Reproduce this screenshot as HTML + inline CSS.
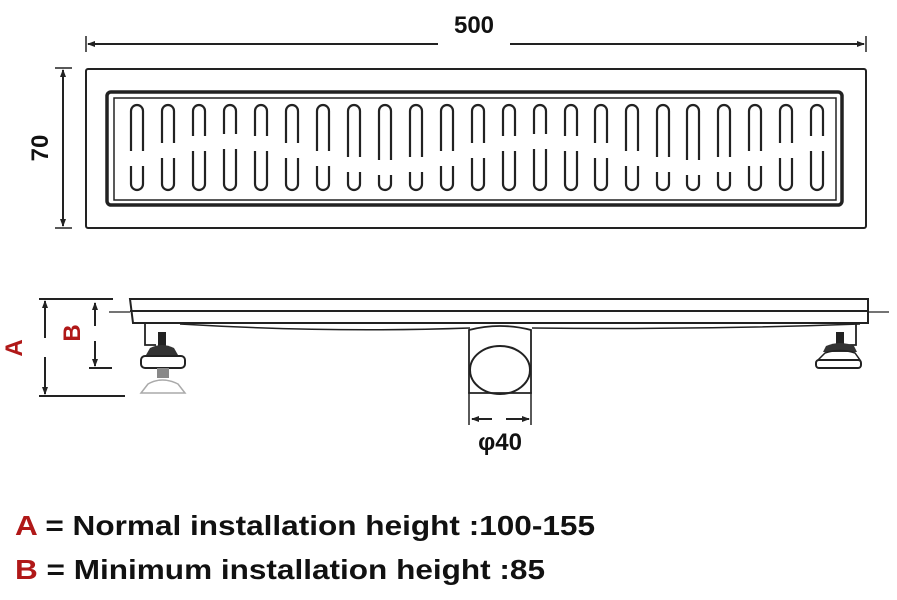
<!DOCTYPE html>
<html><head><meta charset="utf-8"><style>
html,body{margin:0;padding:0;background:#fff;width:897px;height:600px;overflow:hidden}
svg{display:block}
</style></head><body>
<svg width="897" height="600" viewBox="0 0 897 600" xmlns="http://www.w3.org/2000/svg" font-family="'Liberation Sans', 'DejaVu Sans', sans-serif">
<defs>
<marker id="ar" markerWidth="8" markerHeight="8" refX="7" refY="4" orient="auto" markerUnits="userSpaceOnUse"><path d="M0,1 L8,4 L0,7 Z" fill="#222"/></marker>
</defs>
<g stroke="#222" fill="none">
<line x1="86" y1="36" x2="86" y2="52" stroke-width="1.5"/>
<line x1="866" y1="36" x2="866" y2="52" stroke-width="1.5"/>
<line x1="96" y1="44" x2="88" y2="44" stroke-width="2" marker-end="url(#ar)"/>
<line x1="96" y1="44" x2="438" y2="44" stroke-width="2"/>
<line x1="510" y1="44" x2="856" y2="44" stroke-width="2"/>
<line x1="856" y1="44" x2="864" y2="44" stroke-width="2" marker-end="url(#ar)"/>
<line x1="55" y1="68" x2="72" y2="68" stroke-width="1.5"/>
<line x1="55" y1="228" x2="72" y2="228" stroke-width="1.5"/>
<line x1="63" y1="78" x2="63" y2="70" stroke-width="2" marker-end="url(#ar)"/>
<line x1="63" y1="78" x2="63" y2="218" stroke-width="2"/>
<line x1="63" y1="218" x2="63" y2="226" stroke-width="2" marker-end="url(#ar)"/>
<rect x="86" y="69" width="780" height="159" rx="2" stroke-width="2"/>
<rect x="107" y="92" width="735" height="113" rx="4" stroke-width="3.5"/>
<rect x="114" y="98" width="722" height="102" stroke-width="1.5"/>
<g stroke-width="2.2">
<path d="M131,151V111a6,6 0 0 1 12,0V151M131,166V184a6,6 0 0 0 12,0V166"/>
<path d="M162,143V111a6,6 0 0 1 12,0V143M162,158V184a6,6 0 0 0 12,0V158"/>
<path d="M193,136V111a6,6 0 0 1 12,0V136M193,151V184a6,6 0 0 0 12,0V151"/>
<path d="M224,134V111a6,6 0 0 1 12,0V134M224,149V184a6,6 0 0 0 12,0V149"/>
<path d="M255,136V111a6,6 0 0 1 12,0V136M255,151V184a6,6 0 0 0 12,0V151"/>
<path d="M286,143V111a6,6 0 0 1 12,0V143M286,158V184a6,6 0 0 0 12,0V158"/>
<path d="M317,151V111a6,6 0 0 1 12,0V151M317,166V184a6,6 0 0 0 12,0V166"/>
<path d="M348,157V111a6,6 0 0 1 12,0V157M348,172V184a6,6 0 0 0 12,0V172"/>
<path d="M379,160V111a6,6 0 0 1 12,0V160M379,175V184a6,6 0 0 0 12,0V175"/>
<path d="M410,157V111a6,6 0 0 1 12,0V157M410,172V184a6,6 0 0 0 12,0V172"/>
<path d="M441,151V111a6,6 0 0 1 12,0V151M441,166V184a6,6 0 0 0 12,0V166"/>
<path d="M472,143V111a6,6 0 0 1 12,0V143M472,158V184a6,6 0 0 0 12,0V158"/>
<path d="M503,136V111a6,6 0 0 1 12,0V136M503,151V184a6,6 0 0 0 12,0V151"/>
<path d="M534,134V111a6,6 0 0 1 12,0V134M534,149V184a6,6 0 0 0 12,0V149"/>
<path d="M565,136V111a6,6 0 0 1 12,0V136M565,151V184a6,6 0 0 0 12,0V151"/>
<path d="M595,143V111a6,6 0 0 1 12,0V143M595,158V184a6,6 0 0 0 12,0V158"/>
<path d="M626,151V111a6,6 0 0 1 12,0V151M626,166V184a6,6 0 0 0 12,0V166"/>
<path d="M657,157V111a6,6 0 0 1 12,0V157M657,172V184a6,6 0 0 0 12,0V172"/>
<path d="M687,160V111a6,6 0 0 1 12,0V160M687,175V184a6,6 0 0 0 12,0V175"/>
<path d="M718,157V111a6,6 0 0 1 12,0V157M718,172V184a6,6 0 0 0 12,0V172"/>
<path d="M749,151V111a6,6 0 0 1 12,0V151M749,166V184a6,6 0 0 0 12,0V166"/>
<path d="M780,143V111a6,6 0 0 1 12,0V143M780,158V184a6,6 0 0 0 12,0V158"/>
<path d="M811,136V111a6,6 0 0 1 12,0V136M811,151V184a6,6 0 0 0 12,0V151"/>
</g>
<path d="M130,299H868V323H133Z" stroke-width="2"/>
<line x1="130" y1="311" x2="868" y2="311" stroke-width="2"/>
<line x1="109" y1="312" x2="130" y2="312" stroke-width="1.2"/>
<line x1="868" y1="312" x2="889" y2="312" stroke-width="1.2"/>
<path d="M180,324 Q330,333 470,328 M532,328 Q700,330 860,324" stroke-width="1.5"/>
<path d="M469,330 Q500,322 531,330 V393 H469 Z" stroke-width="1.8" fill="#fff"/>
<ellipse cx="500" cy="370" rx="30" ry="24" stroke-width="2"/>
<line x1="469" y1="392" x2="469" y2="425" stroke-width="1.5"/>
<line x1="531" y1="392" x2="531" y2="425" stroke-width="1.5"/>
<line x1="478" y1="419" x2="472" y2="419" stroke-width="2" marker-end="url(#ar)"/>
<line x1="478" y1="419" x2="492" y2="419" stroke-width="2"/>
<line x1="506" y1="419" x2="522" y2="419" stroke-width="2"/>
<line x1="522" y1="419" x2="529" y2="419" stroke-width="2" marker-end="url(#ar)"/>
<path d="M145,323V345H156" stroke-width="1.8"/>
<rect x="158" y="332" width="8" height="16" fill="#222" stroke="none"/>
<path d="M150,348 Q162,342 174,348 L178,355 H146 Z" fill="#333" stroke="none"/>
<rect x="141" y="356" width="44" height="12" rx="4" stroke-width="2"/>
<rect x="157" y="368" width="12" height="10" fill="#888" stroke="none"/>
<path d="M148,384 Q162,376 178,384 L185,393 H141 Z" stroke="#aaa" stroke-width="1.5"/>
<path d="M856,323V345H846" stroke-width="1.8"/>
<rect x="836" y="332" width="8" height="14" fill="#222" stroke="none"/>
<path d="M826,346 Q840,340 854,346 L857,352 H823 Z" fill="#333" stroke="none"/>
<path d="M825,353 Q840,348 855,353 L860,360 H818 Z" stroke-width="1.5"/>
<rect x="816" y="360" width="45" height="8" rx="3" stroke-width="2"/>
<line x1="39" y1="299" x2="113" y2="299" stroke-width="2"/>
<line x1="39" y1="396" x2="125" y2="396" stroke-width="2"/>
<line x1="45" y1="307" x2="45" y2="301" stroke-width="2" marker-end="url(#ar)"/>
<line x1="45" y1="307" x2="45" y2="338" stroke-width="2"/>
<line x1="45" y1="357" x2="45" y2="388" stroke-width="2"/>
<line x1="45" y1="388" x2="45" y2="394" stroke-width="2" marker-end="url(#ar)"/>
<line x1="95" y1="310" x2="95" y2="303" stroke-width="2" marker-end="url(#ar)"/>
<line x1="95" y1="310" x2="95" y2="326" stroke-width="2"/>
<line x1="95" y1="341" x2="95" y2="360" stroke-width="2"/>
<line x1="95" y1="360" x2="95" y2="366" stroke-width="2" marker-end="url(#ar)"/>
<line x1="89" y1="368" x2="112" y2="368" stroke-width="2"/>
</g>
<g font-weight="bold">
<text x="474" y="33" font-size="24" text-anchor="middle" fill="#111">500</text>
<text transform="translate(48,148) rotate(-90)" font-size="24" text-anchor="middle" fill="#111">70</text>
<text transform="translate(22,348) rotate(-90)" font-size="24" text-anchor="middle" fill="#b01818">A</text>
<text transform="translate(80,333) rotate(-90)" font-size="24" text-anchor="middle" fill="#b01818">B</text>
<text x="500" y="450" font-size="24" text-anchor="middle" fill="#111">φ40</text>
<text x="15" y="535" font-size="28" textLength="580" lengthAdjust="spacingAndGlyphs" fill="#111"><tspan fill="#b01818">A</tspan> = Normal installation height :100-155</text>
<text x="15" y="579" font-size="28" textLength="530" lengthAdjust="spacingAndGlyphs" fill="#111"><tspan fill="#b01818">B</tspan> = Minimum installation height :85</text>
</g>
</svg>
</body></html>
